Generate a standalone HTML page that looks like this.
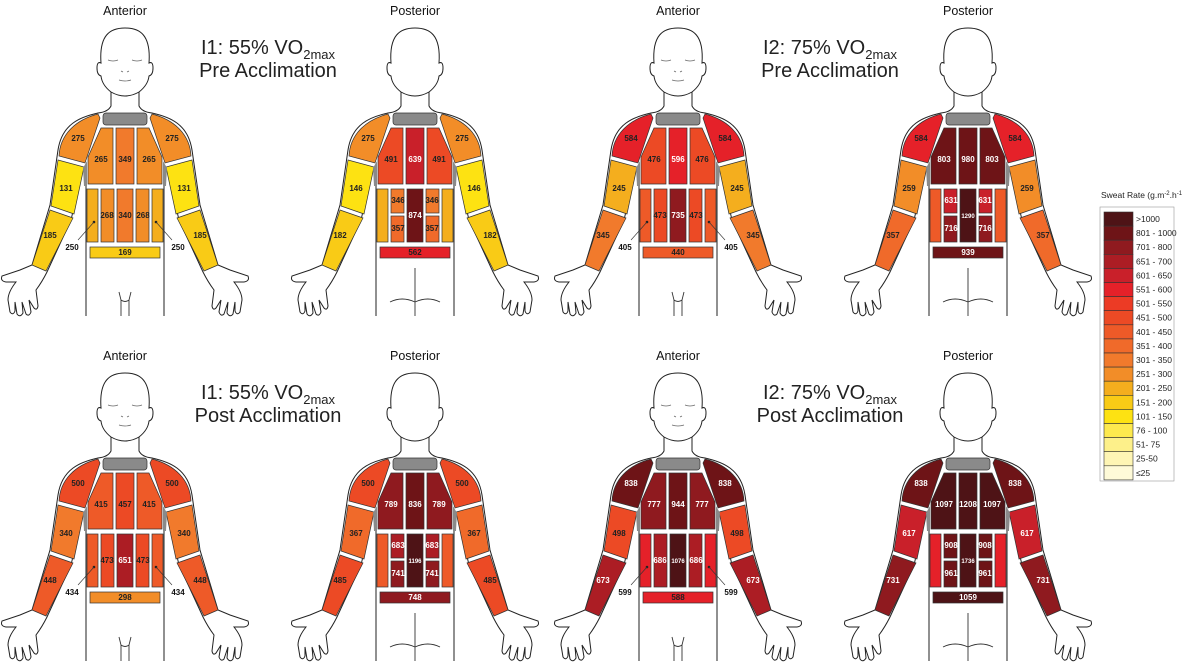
<!DOCTYPE html>
<html><head><meta charset="utf-8"><style>
html,body{margin:0;padding:0;background:#fff;}
svg{display:block;font-family:"Liberation Sans",Arial,sans-serif;}
</style></head><body>
<svg id="s" width="1200" height="671" viewBox="0 0 1200 671" xmlns="http://www.w3.org/2000/svg"></svg>
<script>
const LEG=[[">1000","#4e1316"],["801 - 1000","#6e1417"],["701 - 800","#8f1a1f"],["651 - 700","#ac1d24"],["601 - 650","#c9202a"],["551 - 600","#e52129"],["501 - 550","#ec3b25"],["451 - 500","#ec4a25"],["401 - 450","#ee5a28"],["351 - 400","#f06a2a"],["301 - 350","#f17a2c"],["251 - 300","#f28d28"],["201 - 250","#f4ae1e"],["151 - 200","#f9cb16"],["101 - 150","#fde212"],["76 - 100","#fde94e"],["51- 75","#fdf08a"],["25-50","#fef5b4"],["\u226425","#fefad8"]];
function col(v){const t=[1000,800,700,650,600,550,500,450,400,350,300,250,200,150,100,75,50,25];for(let i=0;i<t.length;i++)if(v>t[i])return LEG[i][1];return LEG[18][1];}
function tc(v){return v>=590?"#fff":"#222";}
const S='stroke="#333" stroke-width="0.7"';
function lab(x,y,v,sz){return `<text x="${x}" y="${y+3}" text-anchor="middle" font-size="${sz||8}" font-weight="bold" fill="${tc(v)}">${v}</text>`;}
function fig(cx,dy,post,d,title){
 const hand='L20,270 Q8,274 2,276 Q0,281 6,282 L16,282 Q8,292 8,300 L10,312 Q13,316 15,311 L15,302 L17,314 Q20,318 23,313 L22,302 L26,314 Q29,317 31,312 L29,300 L34,308 Q37,311 38,306 L36,290 Q42,282 47,272';
 let half=`<path d="M111,92 L111,106 Q108,112 98,113 C80,117 62,124 58,150 L50,205 L32,265 ${hand} L71,220 L83,168 L86,182 L86,316" fill="none" stroke="#222" stroke-width="1"/>`;
 half+=`<path d="M98,114 L100,118 L85,163 L59,156 C60,135 75,120 98,114Z" fill="${col(d.sh)}" ${S}/>`;
 half+=`<path d="M58,160 L84,167 L74,214 L51,206Z" fill="${col(d.ua)}" ${S}/>`;
 half+=`<path d="M50,210 L73,218 L46,271 L32,265Z" fill="${col(d.la)}" ${S}/>`;
 half+=`<path d="M83,168 L87,161 L87,186 L84,186Z" fill="#8a8a8a"/>`;
 half+=`<path d="M101,128 L113,128 L113,184 L88,184 L88,157Z" fill="${col(d.ch[0])}" ${S}/>`;
 half+=`<rect x="87" y="189" width="11" height="53" fill="${col(d.out)}" ${S}/>`;
 if(post){
  half+=`<rect x="101" y="189" width="13" height="24" fill="${col(d.it)}" ${S}/><rect x="101" y="216" width="13" height="26" fill="${col(d.ib)}" ${S}/>`;
 } else {
  half+=`<rect x="101" y="189" width="13" height="53" fill="${col(d.it)}" ${S}/>`;
  half+=`<circle cx="94" cy="222" r="1.3" fill="#222"/><line x1="94" y1="222" x2="78" y2="240" stroke="#333" stroke-width="0.6"/>`;
 }
 let g=`<g transform="translate(${cx-125},${dy})">`;
 g+=`<text x="125" y="15" text-anchor="middle" font-size="12.5" fill="#111">${title}</text>`;
 g+=`<path d="M111,92 Q102,85 101,76 Q97,75 97,68 Q97,61 101,63 C99,35 110,28 125,28 C140,28 151,35 149,63 Q153,61 153,68 Q153,75 149,76 Q148,85 139,92 Q125,100 111,92" fill="#fff" stroke="#222" stroke-width="1"/>`;
 if(!post){g+=`<path d="M108,60 Q113,62 118,60 M132,60 Q137,62 142,60 M121,71 L123,72 M127,72 L129,71 M119,80 Q125,82 131,80" fill="none" stroke="#666" stroke-width="0.7"/>`;}
 g+=half+`<g transform="translate(250,0) scale(-1,1)">${half}</g>`;
 g+=`<rect x="103" y="113" width="44" height="12" rx="3" fill="#8a8a8a" ${S}/>`;
 g+=`<rect x="116" y="128" width="18" height="56" fill="${col(d.ch[1])}" ${S}/>`;
 g+=`<rect x="117" y="189" width="16" height="53" fill="${col(d.c)}" ${S}/>`;
 g+=`<rect x="90" y="247" width="70" height="11" fill="${col(d.b)}" ${S}/>`;
 if(post) g+=`<path d="M125,268 L125,316 M100,302 Q112,296 125,302 Q138,296 150,302" fill="none" stroke="#333" stroke-width="0.9"/>`;
 else g+=`<path d="M119,292 L121,300 L121,316 M131,292 L129,300 L129,316 M121,300 Q125,303 129,300" fill="none" stroke="#333" stroke-width="0.9"/>`;
 // labels
 [[78,250-78]].forEach(()=>{});
 g+=lab(78,138,d.sh)+lab(172,138,d.sh);
 g+=lab(101,159,d.ch[0])+lab(125,159,d.ch[1])+lab(149,159,d.ch[0]);
 g+=lab(66,188,d.ua)+lab(184,188,d.ua);
 g+=lab(50,235,d.la)+lab(200,235,d.la);
 if(post){
  g+=lab(108,200,d.it)+lab(142,200,d.it)+lab(108,228,d.ib)+lab(142,228,d.ib);
  g+=lab(125,215,d.c,d.c>999?6:8);
 } else {
  g+=lab(107,215,d.it)+lab(143,215,d.it)+lab(125,215,d.c,d.c>999?6:8);
  g+=`<text x="72" y="250" text-anchor="middle" font-size="8" font-weight="bold" fill="#111">${d.out}</text><text x="178" y="250" text-anchor="middle" font-size="8" font-weight="bold" fill="#111">${d.out}</text>`;
 }
 g+=lab(125,252,d.b);
 return g+"</g>";
}
let h="";
h+=fig(125,0,false,{sh:275,ch:[265,349],ua:131,la:185,out:250,it:268,c:340,b:169},"Anterior");
h+=fig(415,0,true,{sh:275,ch:[491,639],ua:146,la:182,out:250,it:346,ib:357,c:874,b:562},"Posterior");
h+=fig(678,0,false,{sh:584,ch:[476,596],ua:245,la:345,out:405,it:473,c:735,b:440},"Anterior");
h+=fig(968,0,true,{sh:584,ch:[803,980],ua:259,la:357,out:405,it:631,ib:716,c:1290,b:939},"Posterior");
h+=fig(125,345,false,{sh:500,ch:[415,457],ua:340,la:448,out:434,it:473,c:651,b:298},"Anterior");
h+=fig(415,345,true,{sh:500,ch:[789,836],ua:367,la:485,out:434,it:683,ib:741,c:1196,b:748},"Posterior");
h+=fig(678,345,false,{sh:838,ch:[777,944],ua:498,la:673,out:599,it:686,c:1076,b:588},"Anterior");
h+=fig(968,345,true,{sh:838,ch:[1097,1208],ua:617,la:731,out:599,it:908,ib:961,c:1736,b:1059},"Posterior");
function big(x,y,a,b){return `<text x="${x}" y="${y}" text-anchor="middle" font-size="20" fill="#222">${a}<tspan font-size="13" dy="5">2max</tspan></text><text x="${x}" y="${y+23}" text-anchor="middle" font-size="20" fill="#222">${b}</text>`;}
h+=big(268,54,"I1: 55% VO","Pre Acclimation");
h+=big(830,54,"I2: 75% VO","Pre Acclimation");
h+=big(268,399,"I1: 55% VO","Post Acclimation");
h+=big(830,399,"I2: 75% VO","Post Acclimation");
// legend
h+=`<text x="1101" y="198" font-size="8.5" fill="#222">Sweat Rate (g.m<tspan font-size="6" dy="-3">-2</tspan><tspan dy="3">.h</tspan><tspan font-size="6" dy="-3">-1</tspan></text>`;
const rh=14.1;
LEG.forEach((l,i)=>{const y=212+i*rh;h+=`<rect x="1104" y="${y}" width="29" height="${rh}" fill="${l[1]}" stroke="#333" stroke-width="0.6"/><text x="1136" y="${y+10}" font-size="8.5" fill="#222">${l[0]}</text>`;});
h+=`<rect x="1100" y="207" width="74" height="274" fill="none" stroke="#999" stroke-width="0.6"/>`;
document.getElementById("s").innerHTML=h;
</script>
</body></html>
